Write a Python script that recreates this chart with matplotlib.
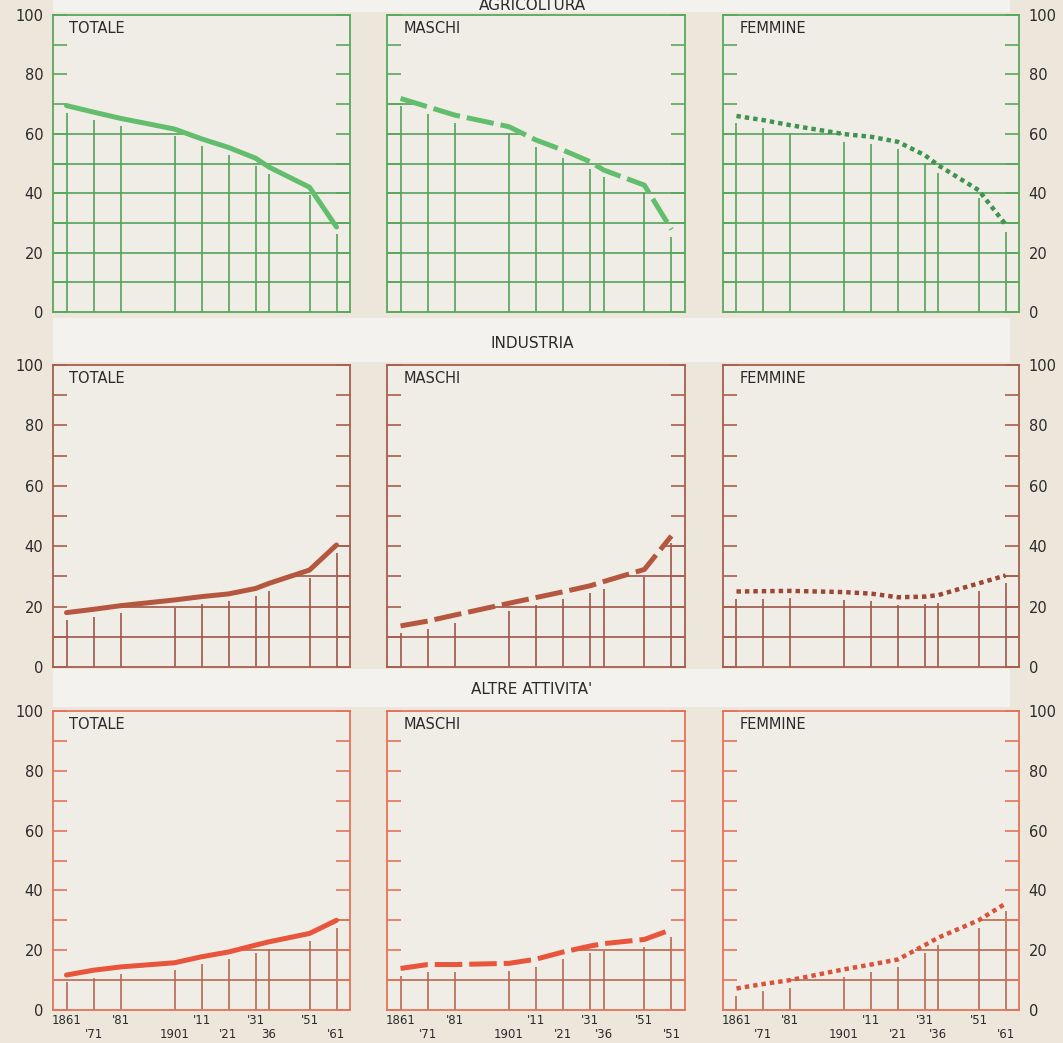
import matplotlib
matplotlib.use('Agg')
import matplotlib.pyplot as plt
import numpy as np
from matplotlib.patches import Rectangle
from matplotlib.ticker import MultipleLocator

# ---------------- data ----------------
years = [1861, 1871, 1881, 1901, 1911, 1921, 1931, 1936, 1951, 1961]
xlabels_left = ["1861", "'71", "'81", "1901", "'11", "'21", "'31", "36", "'51", "'61"]
xlabels_mid = ["1861", "'71", "'81", "1901", "'11", "'21", "'31", "'36", "'51", "'51"]
xlabels_right = ["1861", "'71", "'81", "1901", "'11", "'21", "'31", "'36", "'51", "'61"]

sectors = ["AGRICOLTURA", "INDUSTRIA", "ALTRE ATTIVITA'"]
groups = ["TOTALE", "MASCHI", "FEMMINE"]

agri_totale = [69.5, 67.3, 65.2, 61.6, 58.3, 55.4, 51.8, 48.8, 42.0, 28.6]
agri_maschi = [71.9, 69.1, 66.3, 62.4, 57.9, 54.5, 50.6, 47.8, 42.7, 27.8]
agri_femmine = [66.0, 64.6, 62.9, 59.9, 59.0, 57.3, 52.8, 49.4, 41.0, 29.5]

ind_totale = [18.0, 19.1, 20.3, 22.2, 23.3, 24.2, 26.0, 27.7, 32.1, 40.4]
ind_maschi = [13.6, 15.2, 17.2, 21.1, 23.0, 24.9, 26.9, 28.3, 32.3, 43.4]
ind_femmine = [25.0, 25.1, 25.2, 24.8, 24.3, 23.1, 23.3, 23.8, 27.7, 30.3]

altre_totale = [11.7, 13.3, 14.4, 15.8, 17.8, 19.4, 21.7, 22.8, 25.6, 30.0]
altre_maschi = [13.9, 15.2, 15.2, 15.6, 17.0, 19.4, 21.4, 22.2, 23.6, 26.9]
altre_femmine = [7.2, 8.7, 10.0, 13.6, 15.2, 16.9, 21.7, 24.2, 30.0, 35.6]

values = [[agri_totale, agri_maschi, agri_femmine],
          [ind_totale, ind_maschi, ind_femmine],
          [altre_totale, altre_maschi, altre_femmine]]

# ---------------- style ----------------
W, H = 1063, 1043
fig = plt.figure(figsize=(W / 100, H / 100), dpi=100)
fig.patch.set_facecolor('#ECE6DB')

TXT = '#2B2B2B'
FONT = 'DejaVu Sans'

row_styles = [
    dict(frame='#58A85C', grid='#55A35A', line='#62BD6C', dots='#3F9450', full_below=50),
    dict(frame='#A85E4C', grid='#9C5646', line='#B5573F', dots='#9E4636', full_below=10),
    dict(frame='#E2745A', grid='#B8684F', line='#E8553A', dots='#D8533A', full_below=0),
]

col_px = [(53, 350), (387, 685), (723, 1019)]
row_px = [(15, 312), (365, 667), (711, 1010)]
title_y_px = [6, 343, 690]
title_x_px = 532

# light bands behind the section titles
for (y0, y1) in [(0, 12), (318, 362), (669, 707)]:
    fig.patches.append(Rectangle((0.05, 1 - y1 / H), 0.9, (y1 - y0) / H,
                                 transform=fig.transFigure, facecolor='#F3F2EE',
                                 edgecolor='none', zorder=0))

XMIN, XMAX = 1856.0, 1966.0
GAP = 2.5


def h_intervals(xs, ys, h, full):
    if h <= full:
        return [(XMIN, XMAX)]
    xe = np.concatenate([[XMIN], xs, [XMAX]])
    ye = np.concatenate([[ys[0]], ys, [ys[-1]]])
    xx = np.linspace(XMIN, XMAX, 3000)
    yy = np.interp(xx, xe, ye)
    mask = yy >= h
    out = []
    i = 0
    n = len(xx)
    while i < n:
        if mask[i]:
            j = i
            while j + 1 < n and mask[j + 1]:
                j += 1
            out.append((xx[i], xx[j]))
            i = j + 1
        else:
            i += 1
    return out


for r in range(3):
    st = row_styles[r]
    for c in range(3):
        x0, x1 = col_px[c]
        y0, y1 = row_px[r]
        ax = fig.add_axes([x0 / W, 1 - y1 / H, (x1 - x0) / W, (y1 - y0) / H])
        ax.set_facecolor('#F0EDE7')
        ax.set_xlim(XMIN, XMAX)
        ax.set_ylim(0, 100)
        vals = np.array(values[r][c], dtype=float)
        xs = np.array(years, dtype=float)

        # grid: vertical lines under the curve
        ax.vlines(xs, 0, vals - GAP, colors=st['grid'], lw=1.2, zorder=1)
        # grid: horizontal lines
        for h in range(10, 100, 10):
            for (a, b) in h_intervals(xs, vals, h, st['full_below']):
                ax.hlines(h, a, b, colors=st['grid'], lw=1.2, zorder=1)

        # curve
        if c == 0:
            ax.plot(xs, vals, color=st['line'], lw=3.6, solid_capstyle='round',
                    solid_joinstyle='round', zorder=3)
        elif c == 1:
            ax.plot(xs, vals, color=st['line'], lw=3.6, linestyle=(0, (5.5, 1.4)),
                    dash_capstyle='butt', zorder=3)
        else:
            ax.plot(xs, vals, color=st['dots'], lw=3.2, linestyle=(0, (1, 0.9)),
                    dash_capstyle='butt', zorder=3)

        for sp in ax.spines.values():
            sp.set_color(st['frame'])
            sp.set_linewidth(1.3)

        ax.yaxis.set_major_locator(MultipleLocator(20))
        ax.yaxis.set_minor_locator(MultipleLocator(10))
        ax.tick_params(axis='y', which='both', direction='in', length=10, width=1.2,
                       color=st['frame'], left=True, right=True,
                       labelleft=(c == 0), labelright=(c == 2),
                       labelsize=10.5, labelcolor=TXT, pad=7)
        for lab in ax.get_yticklabels():
            lab.set_fontfamily(FONT)

        ax.set_xticks([])
        if r == 2:
            labs = [xlabels_left, xlabels_mid, xlabels_right][c]
            hpx = y1 - y0
            for i, (yr, lab) in enumerate(zip(years, labs)):
                yoff = -10 / hpx if i % 2 == 0 else -25 / hpx
                ax.text(yr, yoff, lab, transform=ax.get_xaxis_transform(),
                        ha='center', va='center', fontsize=8.5, color=TXT,
                        family=FONT)

        ax.text(0.055, 0.955, groups[c], transform=ax.transAxes, ha='left',
                va='center', fontsize=10.5, color=TXT, family=FONT)

    fig.text(title_x_px / W, 1 - title_y_px[r] / H, sectors[r], ha='center',
             va='center', fontsize=11, color=TXT, family=FONT)

fig.savefig('out.png', dpi=100, facecolor=fig.get_facecolor())
